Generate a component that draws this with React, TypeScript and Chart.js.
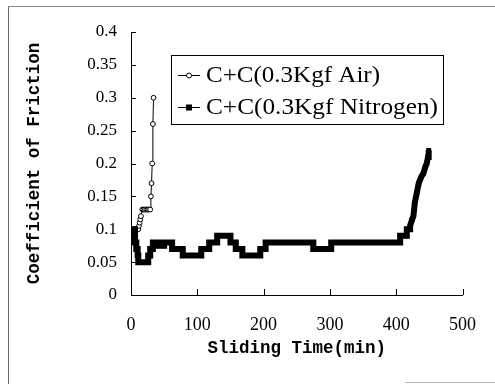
import React, { useEffect, useRef } from "react";
import { Chart, registerables } from "chart.js";

Chart.register(...registerables);

// ---- data ----
const airTimes = [0, 3, 6, 9, 11, 12, 13, 14, 15, 17, 19, 21, 23, 25, 27, 29, 30, 31, 32, 33, 34];
const airValues = [0.09, 0.095, 0.1, 0.1, 0.1, 0.105, 0.11, 0.115, 0.12, 0.13, 0.13, 0.13, 0.13, 0.13, 0.13, 0.13, 0.15, 0.17, 0.2, 0.26, 0.3];

// nitrogen: stepped levels (start time, level)
const n2StepTimes = [0, 2, 6, 8, 10, 11, 26, 29, 33, 42, 50, 62, 78, 106, 118, 130, 150, 158, 168, 195, 203, 275, 302, 406, 416];
const n2StepValues = [0.09, 0.1, 0.08, 0.07, 0.06, 0.05, 0.06, 0.07, 0.08, 0.075, 0.08, 0.07, 0.06, 0.07, 0.08, 0.09, 0.08, 0.07, 0.06, 0.07, 0.08, 0.07, 0.08, 0.09, 0.1];
// nitrogen: final rise
const n2RiseTimes = [421, 424, 426, 428, 431, 434, 438, 441, 444, 446, 448, 449];
const n2RiseValues = [0.105, 0.115, 0.12, 0.14, 0.155, 0.17, 0.18, 0.185, 0.195, 0.2, 0.21, 0.22];

const xTicks = [0, 100, 200, 300, 400, 500];
const yTickLabels = ["0", "0.05", "0.1", "0.15", "0.2", "0.25", "0.3", "0.35", "0.4"];

const airLabel = "C+C(0.3Kgf Air)";
const n2Label = "C+C(0.3Kgf Nitrogen)";
const xTitle = "Sliding Time(min)";
const yTitle = "Coefficient of Friction";

function buildAir() {
  return airTimes.map((t, i) => ({ x: t, y: airValues[i] }));
}

function buildN2() {
  const pts: { x: number; y: number }[] = [];
  for (let i = 0; i < n2StepTimes.length; i++) {
    pts.push({ x: n2StepTimes[i], y: n2StepValues[i] });
    const next = i + 1 < n2StepTimes.length ? n2StepTimes[i + 1] : n2RiseTimes[0];
    pts.push({ x: next, y: n2StepValues[i] });
  }
  n2RiseTimes.forEach((t, i) => pts.push({ x: t, y: n2RiseValues[i] }));
  return pts;
}

const framePlugin = {
  id: "frame",
  beforeDraw(chart: any) {
    const ctx = chart.ctx;
    ctx.save();
    ctx.fillStyle = "#fff";
    ctx.fillRect(0, 0, chart.width, chart.height);
    ctx.lineWidth = 1;
    ctx.strokeStyle = "#666";
    ctx.beginPath();
    ctx.moveTo(8.5, 6);
    ctx.lineTo(8.5, 384);
    ctx.stroke();
    ctx.strokeStyle = "#888";
    ctx.beginPath();
    ctx.moveTo(8, 6.5);
    ctx.lineTo(495, 6.5);
    ctx.stroke();
    ctx.strokeStyle = "#bbb";
    ctx.beginPath();
    ctx.moveTo(405, 382.5);
    ctx.lineTo(495, 382.5);
    ctx.stroke();
    ctx.restore();
  },
};

const ticksPlugin = {
  id: "inTicks",
  afterDraw(chart: any) {
    const ctx = chart.ctx;
    const xs = chart.scales.x;
    const ys = chart.scales.y;
    const { left, bottom } = chart.chartArea;
    ctx.save();
    ctx.strokeStyle = "#000";
    ctx.lineWidth = 1;
    ctx.beginPath();
    ys.ticks.forEach((t: any) => {
      const py = Math.round(ys.getPixelForValue(t.value)) + 0.5;
      ctx.moveTo(left, py);
      ctx.lineTo(left + 5, py);
    });
    xs.ticks.forEach((t: any) => {
      const px = Math.round(xs.getPixelForValue(t.value)) + 0.5;
      ctx.moveTo(px, bottom);
      ctx.lineTo(px, bottom - 6);
    });
    ctx.stroke();
    ctx.restore();
  },
};

const legendPlugin = {
  id: "boxLegend",
  afterDraw(chart: any) {
    const ctx = chart.ctx;
    const bx = 171.5, by = 55.5, bw = 272, bh = 69;
    ctx.save();
    ctx.fillStyle = "#fff";
    ctx.fillRect(bx, by, bw, bh);
    ctx.strokeStyle = "#000";
    ctx.lineWidth = 1;
    ctx.strokeRect(bx, by, bw, bh);
    const rows = [
      { y: 75, label: airLabel, kind: "air" },
      { y: 107, label: n2Label, kind: "n2" },
    ];
    rows.forEach((r) => {
      ctx.strokeStyle = "#000";
      ctx.lineWidth = 1;
      ctx.beginPath();
      ctx.moveTo(178, r.y + 0.5);
      ctx.lineTo(200, r.y + 0.5);
      ctx.stroke();
      if (r.kind === "air") {
        ctx.fillStyle = "#fff";
        ctx.beginPath();
        ctx.arc(189, r.y + 0.5, 2.5, 0, Math.PI * 2);
        ctx.fill();
        ctx.stroke();
      } else {
        ctx.fillStyle = "#000";
        ctx.fillRect(186, r.y - 2.5, 6, 6);
      }
      ctx.fillStyle = "#000";
      ctx.font = '24px "Liberation Serif"';
      ctx.textBaseline = "middle";
      ctx.textAlign = "left";
      const w = ctx.measureText(r.label).width;
      const target = r.label.length * 11.6;
      ctx.save();
      ctx.translate(206, r.y + 1);
      ctx.scale(target / w, 1);
      ctx.fillText(r.label, 0, 0);
      ctx.restore();
    });
    ctx.restore();
  },
};

export default function App() {
  const ref = useRef<HTMLCanvasElement>(null);
  useEffect(() => {
    if (!ref.current) return;
    const chart = new Chart(ref.current, {
      type: "line",
      data: {
        datasets: [
          {
            label: n2Label,
            data: buildN2(),
            borderColor: "#000",
            backgroundColor: "#000",
            borderWidth: 6,
            pointStyle: "rect",
            pointRadius: 3.5,
            pointBackgroundColor: "#000",
            pointBorderColor: "#000",
            pointBorderWidth: 0,
            tension: 0,
          },
          {
            label: airLabel,
            data: buildAir(),
            borderColor: "#000",
            borderWidth: 1,
            pointStyle: "circle",
            pointRadius: 2.4,
            pointBackgroundColor: "#fff",
            pointBorderColor: "#000",
            pointBorderWidth: 1,
            tension: 0,
          },
        ],
      },
      options: {
        responsive: false,
        animation: false,
        events: [],
        layout: { padding: { left: 0, right: 29, top: 32, bottom: 0 } },
        plugins: {
          legend: { display: false },
          tooltip: { enabled: false },
        },
        scales: {
          x: {
            type: "linear",
            min: 0,
            max: 500,
            afterFit: (s: any) => {
              s.height = 89;
            },
            afterBuildTicks: (s: any) => {
              s.ticks = xTicks.map((v) => ({ value: v }));
            },
            grid: { display: false, drawTicks: false },
            border: { display: true, color: "#000", width: 1 },
            ticks: {
              color: "#000",
              padding: 19,
              maxRotation: 0,
              font: { family: '"Liberation Serif"', size: 18 },
              callback: (v: any) => String(v),
            },
            title: {
              display: true,
              text: xTitle,
              color: "#000",
              font: { family: '"Liberation Mono"', size: 17.5, weight: "bold" },
              padding: { top: 0, bottom: 25 },
            },
          },
          y: {
            type: "linear",
            min: 0,
            max: 0.4,
            afterFit: (s: any) => {
              s.width = 131;
            },
            afterBuildTicks: (s: any) => {
              s.ticks = yTickLabels.map((_, i) => ({ value: i * 0.05 }));
            },
            grid: { display: false, drawTicks: false },
            border: { display: true, color: "#000", width: 1 },
            ticks: {
              color: "#000",
              padding: 14,
              font: { family: '"Liberation Serif"', size: 17 },
              callback: (v: any) => yTickLabels[Math.round(Number(v) / 0.05)],
            },
            title: {
              display: true,
              text: yTitle,
              color: "#000",
              font: { family: '"Liberation Mono"', size: 17.5, weight: "bold" },
              padding: { top: 24, bottom: 0 },
            },
          },
        },
      },
      plugins: [framePlugin, ticksPlugin, legendPlugin],
    } as any);
    return () => chart.destroy();
  }, []);
  return (
    <div style={{ position: "absolute", left: 0, top: 0, width: 495, height: 384 }}>
      <canvas ref={ref} width={495} height={384} style={{ width: 495, height: 384 }} />
    </div>
  );
}
